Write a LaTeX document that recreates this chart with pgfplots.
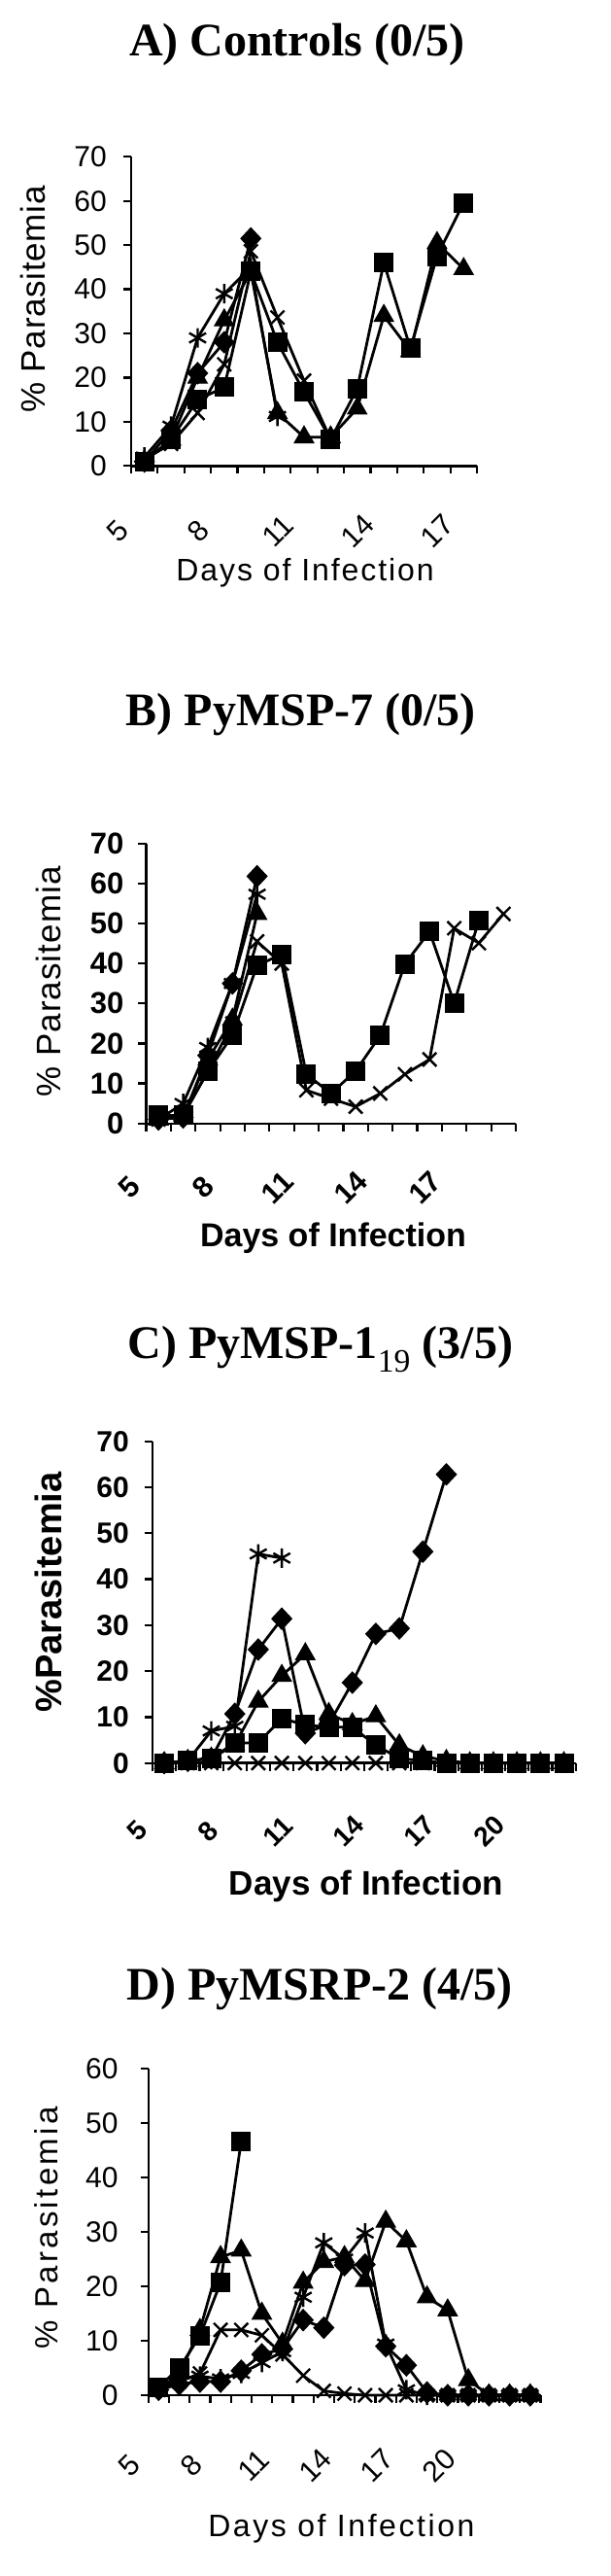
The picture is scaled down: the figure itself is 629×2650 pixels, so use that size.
\documentclass[border=0pt]{standalone}
\usepackage{fontspec}
\setmainfont{Liberation Serif}
\setsansfont{Liberation Sans}
\usepackage{pgfplots}
\pgfplotsset{compat=1.18}

\newcommand\fs[1]{\fontsize{#1}{#1}\selectfont}

\pgfplotsset{
  panel/.style={
    scale only axis, clip=false,
    axis x line=bottom, axis y line=left,
    axis line style={-, line width=2.4pt},
    tick align=outside, major tick length=8pt, minor tick length=8pt,
    tick style={black, line width=2.2pt},
    major x tick style={draw=none},
    /pgf/number format/assume math mode=true,
    ymin=0,
    title style={anchor=center, font=\rmfamily\bfseries\fs{48}},
    xlabel style={anchor=center},
    ylabel style={anchor=center},
    yticklabel style={anchor=east, inner sep=0pt},
  },
  s1/.style={black, line width=2.8pt, mark=diamond*, mark size=11pt,
    mark options={solid, fill=black, xscale=1.25, line width=1pt}},
  s2/.style={black, line width=2.8pt, mark=square*, mark size=9.5pt,
    mark options={solid, fill=black, line width=1pt}},
  s3/.style={black, line width=2.8pt, mark=triangle*, mark size=11.5pt,
    mark options={solid, fill=black, line width=1pt}},
  s4/.style={black, line width=2.8pt, mark=x, mark size=10pt,
    mark options={solid, line width=2.4pt}},
  s5/.style={black, line width=2.8pt, mark=asterisk, mark size=10pt,
    mark options={solid, line width=2.4pt}},
}

\begin{document}
\begin{tikzpicture}
\useasboundingbox (0,0) rectangle (629pt,-2650pt);

% A) Controls
\begin{axis}[panel, at={(135pt,-479.3pt)}, anchor=south west,
  width=356pt, height=318pt, xmin=4.5, xmax=17.5, ymax=70,
  xtick={5,8,11,14,17}, minor xtick={4.5,5.5,...,17.5}, ytick={0,10,...,70},
  xticklabel style={font=\sffamily\fs{30}, anchor=center, xshift=-27pt, yshift=-59pt, rotate=45},
  yticklabel style={font=\sffamily\fs{30}, xshift=-17pt},
  title={A) Controls (0/5)},
  title style={at={(axis description cs:0.480,1.344)}},
  ylabel={\% Parasitemia},
  ylabel style={at={(axis description cs:-0.284,0.539)}, font=\sffamily\fs{35}\addfontfeature{LetterSpace=2}},
  xlabel={Days of Infection},
  xlabel style={at={(axis description cs:0.503,-0.345)}, font=\sffamily\fs{32}\addfontfeature{LetterSpace=6}},
]
\addplot[s4] coordinates {(5,1.5)(6,5)(7,12)(8,23)(9,48.6)(10,33.6)(11,19.3)(12,6)};
\addplot[s5] coordinates {(5,2)(6,9)(7,29)(8,39)(9,45)(10,11.2)};
\addplot[s1] coordinates {(5,1)(6,8)(7,21)(8,28)(9,51.5)};
\addplot[s3] coordinates {(5,1)(6,6)(7,20)(8,33)(9,44)(10,12)(11,6.5)(12,6.5)(13,13)(14,34)(15,26)(16,50.5)(17,44.6)};
\addplot[s2] coordinates {(5,1)(6,6)(7,15)(8,17.8)(9,44)(10,28)(11,16.7)(12,6)(13,17.5)(14,46)(15,26.6)(16,47.5)(17,59.6)};
\end{axis}

% B) PyMSP-7
\begin{axis}[panel, at={(150.5pt,-1155.7pt)}, anchor=south west,
  width=380.5pt, height=288pt, xmin=4.5, xmax=19.5, ymax=70,
  xtick={5,8,11,14,17}, minor xtick={4.5,5.5,...,19.5}, ytick={0,10,...,70},
  xticklabel style={font=\sffamily\bfseries\fs{30}, anchor=center, xshift=-30pt, yshift=-58pt, rotate=45},
  yticklabel style={font=\sffamily\bfseries\fs{31}, xshift=-15pt},
  title={B) PyMSP-7 (0/5)},
  title style={at={(axis description cs:0.419,1.440)}},
  ylabel={\% Parasitemia},
  ylabel style={at={(axis description cs:-0.264,0.506)}, font=\sffamily\fs{35}\addfontfeature{LetterSpace=3}},
  xlabel={Days of Infection},
  xlabel style={at={(axis description cs:0.506,-0.411)}, font=\sffamily\bfseries\fs{34}},
]
\addplot[s1] coordinates {(5,1)(6,1.5)(7,17)(8,35)(9,61.8)};
\addplot[s3] coordinates {(5,1)(6,2)(7,16)(8,26)(9,52.4)};
\addplot[s5] coordinates {(5,1)(6,5)(7,19)(8,35)(9,57.3)};
\addplot[s4] coordinates {(5,1)(6,2)(7,13)(8,25)(9,45.5)(10,40)(11,8.3)(12,6.2)(13,4.2)(14,7.5)(15,12.3)(16,16)(17,48.8)(18,45.1)(19,52.4)};
\addplot[s2] coordinates {(5,2)(6,2)(7,13)(8,22)(9,39.5)(10,42.3)(11,12.3)(12,7.5)(13,13.1)(14,22)(15,39.9)(16,48)(17,30.1)(18,50.8)};
\end{axis}

% C) PyMSP-1_19
\begin{axis}[panel, at={(157pt,-1813.7pt)}, anchor=south west,
  width=435.6pt, height=331pt, xmin=4.5, xmax=22.5, ymax=70,
  xtick={5,8,11,14,17,20}, minor xtick={4.5,5.5,...,22.5}, ytick={0,10,...,70},
  xticklabel style={font=\sffamily\bfseries\fs{28}, anchor=center, xshift=-28pt, yshift=-62pt, rotate=45},
  yticklabel style={font=\sffamily\bfseries\fs{30}, xshift=-16pt},
  title={C) PyMSP-1\textsubscript{\mdseries 19} (3/5)},
  title style={at={(axis description cs:0.397,1.268)}},
  ylabel={\%Parasitemia},
  ylabel style={at={(axis description cs:-0.246,0.531)}, font=\sffamily\bfseries\fs{38}},
  xlabel={Days of Infection},
  xlabel style={at={(axis description cs:0.505,-0.382)}, font=\sffamily\bfseries\fs{35}},
]
\addplot[s4] coordinates {(5,0)(6,0)(7,0)(8,0)(9,0)(10,0)(11,0)(12,0)(13,0)(14,0)(15,0)(16,0)(17,0)(18,0)(19,0)(20,0)(21,0)(22,0)};
\addplot[s5] coordinates {(5,0)(6,0.5)(7,7)(8,8)(9,45.5)(10,44.6)};
\addplot[s2] coordinates {(5,0)(6,0.5)(7,1)(8,4.4)(9,4.4)(10,9.7)(11,8.3)(12,7.8)(13,7.8)(14,3.9)(15,1)(16,0.5)(17,0)(18,0)(19,0)(20,0)(21,0)(22,0)};
\addplot[s3] coordinates {(5,0)(6,0.5)(7,1)(8,4)(9,13.4)(10,19)(11,23.7)(12,10.7)(13,8.5)(14,10.2)(15,3.9)(16,1.5)(17,0.5)(18,0)(19,0)(20,0)(21,0)(22,0)};
\addplot[s1] coordinates {(5,0)(6,0.5)(7,1)(8,10.7)(9,24.7)(10,31.4)(11,6.5)(12,8.5)(13,17.5)(14,28.1)(15,29.3)(16,46)(17,62.8)};
\end{axis}

% D) PyMSRP-2
\begin{axis}[panel, at={(152.7pt,-2464pt)}, anchor=south west,
  width=403.8pt, height=336pt, xmin=4.5, xmax=23.5, ymax=60,
  xtick={5,8,11,14,17,20}, minor xtick={4.5,5.5,...,23.5}, ytick={0,10,...,60},
  xticklabel style={font=\sffamily\fs{30}, anchor=center, xshift=-30pt, yshift=-64pt, rotate=45},
  yticklabel style={font=\sffamily\fs{30}, xshift=-23pt},
  title={D) PyMSRP-2 (4/5)},
  title style={at={(axis description cs:0.437,1.226)}},
  ylabel={\% Parasitemia},
  ylabel style={at={(axis description cs:-0.259,0.512)}, font=\sffamily\fs{33}\addfontfeature{LetterSpace=10}},
  xlabel={Days of Infection},
  xlabel style={at={(axis description cs:0.492,-0.408)}, font=\sffamily\fs{32}\addfontfeature{LetterSpace=8}},
]
\addplot[s4] coordinates {(5,1)(6,2.5)(7,4)(8,12)(9,12)(10,11)(11,7.5)(12,3.6)(13,0.8)(14,0.3)(15,0)(16,0)(17,0)(18,0)(19,0)(20,0)(21,0)(22,0)(23,0)};
\addplot[s1] coordinates {(5,1)(6,2)(7,2.5)(8,2.5)(9,4.5)(10,7.5)(11,8.5)(12,13.8)(13,12.4)(14,23.9)(15,24)(16,9)(17,5.5)(18,0.5)(19,0)(20,0)(21,0)(22,0)(23,0)};
\addplot[s5] coordinates {(5,1)(6,3)(7,3.5)(8,3)(9,4)(10,6)(11,8)(12,18)(13,28)(14,25)(15,29.8)(16,9.4)(17,1)(18,0)(19,0)(20,0)(21,0)(22,0)(23,0)};
\addplot[s3] coordinates {(5,1)(6,4)(7,12)(8,25.4)(9,26.6)(10,15)(11,9.5)(12,20.7)(13,24.5)(14,25.4)(15,21)(16,31.9)(17,28.3)(18,18)(19,15.6)(20,2.8)(21,0)(22,0)(23,0)};
\addplot[s2] coordinates {(5,1.5)(6,5)(7,10.9)(8,20.7)(9,46.7)};
\end{axis}
\end{tikzpicture}
\end{document}
